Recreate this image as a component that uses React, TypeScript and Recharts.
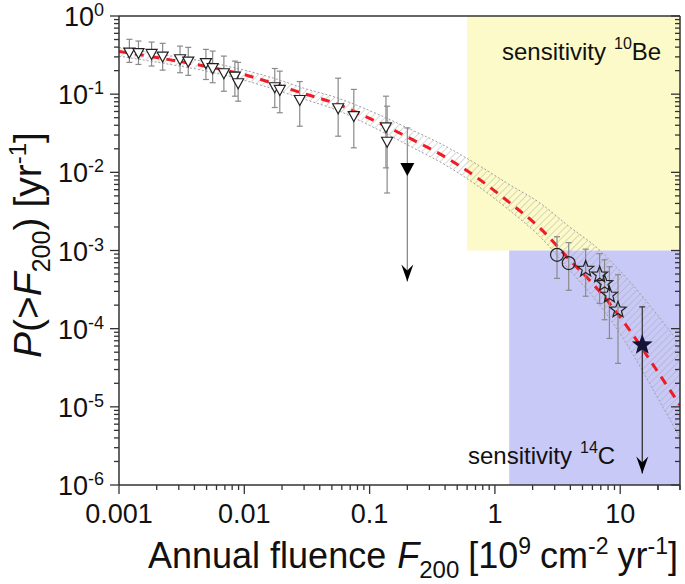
import React from "react";
import {
  ComposedChart,
  XAxis,
  YAxis,
  Line,
  Area,
  Scatter,
  ErrorBar,
  ReferenceLine,
} from "recharts";

const FONT = "'Liberation Sans', Arial, sans-serif";

// fitted cumulative probability curve (red dashed) and its uncertainty band
const fitF = [0.001, 0.0022, 0.005, 0.0098, 0.02, 0.028, 0.056, 0.1, 0.22, 0.41, 0.72, 1.31, 2.28, 3.95, 6.5, 10.4, 19.5, 30];
const fitP = [0.352, 0.287, 0.226, 0.179, 0.126, 0.105, 0.074, 0.049, 0.0262, 0.0154, 0.00855, 0.00409, 0.00195, 7.6e-4, 3.3e-4, 1.29e-4, 2.96e-5, 1.05e-5];
const bandLo = [0.307, 0.25, 0.197, 0.152, 0.107, 0.0894, 0.0616, 0.0398, 0.0208, 0.0122, 0.00679, 0.00325, 0.00151, 5.6e-4, 2.23e-4, 7.8e-5, 1.38e-5, 4.0e-6];
const bandHi = [0.395, 0.322, 0.259, 0.205, 0.148, 0.123, 0.089, 0.0617, 0.0345, 0.0213, 0.01265, 0.00695, 0.00407, 2.0e-3, 1.09e-3, 5.1e-4, 1.55e-4, 6.3e-5];

// open triangles
const triF = [0.00121, 0.00143, 0.00182, 0.00223, 0.00307, 0.00357, 0.00494, 0.00559, 0.00687, 0.00841, 0.00893, 0.0175, 0.0192, 0.0277, 0.0561, 0.0748, 0.135, 0.138];
const triP = [0.345, 0.34, 0.332, 0.307, 0.284, 0.265, 0.253, 0.218, 0.188, 0.17, 0.14, 0.1245, 0.115, 0.0855, 0.067, 0.0533, 0.0382, 0.025];
const triLo = [0.255, 0.24, 0.229, 0.203, 0.188, 0.174, 0.154, 0.14, 0.109, 0.0942, 0.0813, 0.0675, 0.0578, 0.0389, 0.029, 0.0206, 0.0114, 0.00544];
const triHi = [0.503, 0.478, 0.464, 0.447, 0.412, 0.397, 0.374, 0.356, 0.307, 0.265, 0.255, 0.213, 0.197, 0.145, 0.16, 0.115, 0.0942, 0.0702];

// open circles
const circF = [3.13, 3.88];
const circP = [8.8e-4, 6.9e-4];
const circLo = [4.4e-4, 3.1e-4];
const circHi = [1.5e-3, 1.26e-3];

// open stars
const starF = [5.3, 6.85, 7.5, 8.2, 9.6];
const starP = [5.8e-4, 4.9e-4, 3.8e-4, 2.7e-4, 1.74e-4];
const starLo = [2.6e-4, 2.1e-4, 1.3e-4, 7.5e-5, 3.6e-5];
const starHi = [1.04e-3, 9.1e-4, 7.6e-4, 6.2e-4, 4.9e-4];

// upper limits (filled triangle, filled star)
const limTriF = [0.2];
const limTriP = [0.0114];
const limTriHi = [0.037];
const limTriArrow = [4.0e-4];
const limStarF = [15];
const limStarP = [6.2e-5];
const limStarHi = [1.9e-4];
const limStarArrow = [1.4e-6];

// sensitivity windows: x range and P range
const be10X = [0.6, 30];
const be10P = [1e-3, 1];
const c14X = [1.3, 30];
const c14P = [1e-6, 1e-3];

const xMajor = [0.001, 0.01, 0.1, 1, 10];
const xMajorLabels = ["0.001", "0.01", "0.1", "1", "10"];
const yMajor = [1, 0.1, 0.01, 0.001, 1e-4, 1e-5, 1e-6];
const yMajorExp = ["0", "-1", "-2", "-3", "-4", "-5", "-6"];

const mult = [1, 2, 3, 4, 5, 6, 7, 8, 9];
const xTicks = [...xMajor.flatMap((d) => mult.map((m) => (m === 1 ? d : d * m))), 20, 30];
const yTicks = [1, ...yMajor.slice(1).flatMap((d) => mult.map((m) => (m === 1 ? d : d * m)))];

const fitData = fitF.map((x, i) => ({ x, y: fitP[i], band: [bandLo[i], bandHi[i]] }));
const be10Data = be10X.map((x) => ({ x, box: be10P }));
const c14Data = c14X.map((x) => ({ x, box: c14P }));
const triData = triF.map((x, i) => ({ x, y: triP[i], err: [triP[i] - triLo[i], triHi[i] - triP[i]] }));
const circData = circF.map((x, i) => ({ x, y: circP[i], err: [circP[i] - circLo[i], circHi[i] - circP[i]] }));
const starData = starF.map((x, i) => ({ x, y: starP[i], err: [starP[i] - starLo[i], starHi[i] - starP[i]] }));
const limTriData = limTriF.map((x, i) => ({ x, y: limTriP[i], err: [0, limTriHi[i] - limTriP[i]] }));
const limStarData = limStarF.map((x, i) => ({ x, y: limStarP[i], err: [0, limStarHi[i] - limStarP[i]] }));
const arrowData = [
  ...limTriF.map((x, i) => ({ x, y: limTriArrow[i] })),
  ...limStarF.map((x, i) => ({ x, y: limStarArrow[i] })),
];

const AXIS = "#333";

const starPoints = (cx: number, cy: number, R: number, r: number) =>
  Array.from({ length: 10 }, (_, k) => {
    const a = -Math.PI / 2 + (k * Math.PI) / 5;
    const rad = k % 2 === 0 ? R : r;
    return `${cx + rad * Math.cos(a)},${cy + rad * Math.sin(a)}`;
  }).join(" ");

const OpenTri = ({ cx, cy }: any) => (
  <polygon
    points={`${cx - 5.5},${cy - 4} ${cx + 5.5},${cy - 4} ${cx},${cy + 6}`}
    fill="#fff"
    stroke="#222"
    strokeWidth={1.2}
  />
);
const FilledTri = ({ cx, cy }: any) => (
  <polygon points={`${cx - 7},${cy - 5} ${cx + 7},${cy - 5} ${cx},${cy + 8}`} fill="#000" />
);
const OpenCircle = ({ cx, cy }: any) => (
  <circle cx={cx} cy={cy} r={6.5} fill="none" stroke="#222" strokeWidth={1.2} />
);
const OpenStar = ({ cx, cy }: any) => (
  <polygon points={starPoints(cx, cy, 8.5, 3.6)} fill="none" stroke="#222" strokeWidth={1.2} />
);
const FilledStar = ({ cx, cy }: any) => (
  <polygon points={starPoints(cx, cy, 11, 4.6)} fill="#141438" />
);
const ArrowHead = ({ cx, cy }: any) => (
  <polygon points={`${cx},${cy} ${cx - 6},${cy - 17} ${cx},${cy - 11} ${cx + 6},${cy - 17}`} fill="#000" />
);

const BottomTick = ({ x, y, payload }: any) => {
  const i = xMajor.indexOf(payload.value);
  const major = i >= 0;
  return (
    <g>
      <line x1={x} x2={x} y1={y} y2={y + (major ? 9 : 5)} stroke={AXIS} strokeWidth={1.3} />
      {major && (
        <text x={x} y={y + 38} textAnchor="middle" fontSize={27} fontFamily={FONT} fill="#111">
          {xMajorLabels[i]}
        </text>
      )}
    </g>
  );
};

const TopTick = ({ x, y, payload }: any) => {
  const major = xMajor.includes(payload.value);
  return <line x1={x} x2={x} y1={y} y2={y + (major ? 9 : 5)} stroke={AXIS} strokeWidth={1.3} />;
};

const LeftTick = ({ x, y, payload }: any) => {
  const i = yMajor.indexOf(payload.value);
  const major = i >= 0;
  return (
    <g>
      <line x1={x - (major ? 9 : 5)} x2={x} y1={y} y2={y} stroke={AXIS} strokeWidth={1.3} />
      {major && (
        <text x={x - 15} y={y + 10} textAnchor="end" fontSize={27} fontFamily={FONT} fill="#111">
          10
          <tspan dy={-10} fontSize={18}>
            {yMajorExp[i]}
          </tspan>
        </text>
      )}
    </g>
  );
};

const RightTick = ({ x, y, payload }: any) => {
  const major = yMajor.includes(payload.value);
  return <line x1={x - (major ? 9 : 5)} x2={x} y1={y} y2={y} stroke={AXIS} strokeWidth={1.3} />;
};

export default function App() {
  return (
    <div style={{ position: "absolute", left: 0, top: 0, width: 685, height: 584 }}>
      <ComposedChart width={685} height={584} margin={{ top: 15, right: 4, bottom: 0, left: 0 }}>
        <defs>
          <pattern id="hatch" width="5" height="5" patternUnits="userSpaceOnUse" patternTransform="rotate(45)">
            <line x1="0" y1="0" x2="0" y2="5" stroke="#a0a0a0" strokeWidth="0.8" />
          </pattern>
        </defs>
        <Area
          data={be10Data}
          dataKey="box"
          type="linear"
          fill="#fcfac8"
          fillOpacity={1}
          stroke="none"
          isAnimationActive={false}
        />
        <Area
          data={c14Data}
          dataKey="box"
          type="linear"
          fill="#c9c9f8"
          fillOpacity={1}
          stroke="none"
          isAnimationActive={false}
        />
        <Area
          data={fitData}
          dataKey="band"
          type="monotone"
          fill="url(#hatch)"
          fillOpacity={1}
          stroke="#a0a0a0"
          strokeWidth={1}
          strokeDasharray="2 2"
          isAnimationActive={false}
        />
        <Line
          data={fitData}
          dataKey="y"
          type="monotone"
          stroke="#ee1c25"
          strokeWidth={3}
          strokeDasharray="9 7"
          dot={false}
          isAnimationActive={false}
        />
        <ReferenceLine
          segment={[
            { x: limTriF[0], y: limTriP[0] },
            { x: limTriF[0], y: limTriArrow[0] },
          ]}
          stroke="#8a8a8a"
          strokeWidth={1.3}
        />
        <ReferenceLine
          segment={[
            { x: limStarF[0], y: limStarP[0] },
            { x: limStarF[0], y: limStarArrow[0] },
          ]}
          stroke="#333"
          strokeWidth={1.3}
        />
        <Scatter data={triData} shape={(p: any) => <OpenTri {...p} />} isAnimationActive={false}>
          <ErrorBar dataKey="err" direction="y" width={3} stroke="#8a8a8a" strokeWidth={1.2} />
        </Scatter>
        <Scatter data={circData} shape={(p: any) => <OpenCircle {...p} />} isAnimationActive={false}>
          <ErrorBar dataKey="err" direction="y" width={3} stroke="#8a8a8a" strokeWidth={1.2} />
        </Scatter>
        <Scatter data={starData} shape={(p: any) => <OpenStar {...p} />} isAnimationActive={false}>
          <ErrorBar dataKey="err" direction="y" width={3} stroke="#8a8a8a" strokeWidth={1.2} />
        </Scatter>
        <Scatter data={limTriData} shape={(p: any) => <FilledTri {...p} />} isAnimationActive={false}>
          <ErrorBar dataKey="err" direction="y" width={3} stroke="#8a8a8a" strokeWidth={1.2} />
        </Scatter>
        <Scatter data={limStarData} shape={(p: any) => <FilledStar {...p} />} isAnimationActive={false}>
          <ErrorBar dataKey="err" direction="y" width={3} stroke="#333" strokeWidth={1.2} />
        </Scatter>
        <Scatter data={arrowData} shape={(p: any) => <ArrowHead {...p} />} isAnimationActive={false} />
        <XAxis
          dataKey="x"
          type="number"
          scale="log"
          domain={[0.001, 30]}
          allowDataOverflow
          ticks={xTicks}
          interval={0}
          tick={(p: any) => <BottomTick {...p} />}
          tickLine={false}
          tickSize={0}
          tickMargin={0}
          axisLine={{ stroke: AXIS, strokeWidth: 1.5 }}
          height={99}
        />
        <XAxis
          xAxisId="top"
          orientation="top"
          type="number"
          scale="log"
          domain={[0.001, 30]}
          allowDataOverflow
          ticks={xTicks}
          interval={0}
          tick={(p: any) => <TopTick {...p} />}
          tickLine={false}
          tickSize={0}
          tickMargin={0}
          axisLine={{ stroke: AXIS, strokeWidth: 1.5 }}
          height={1}
        />
        <YAxis
          dataKey="y"
          type="number"
          scale="log"
          domain={[1e-6, 1]}
          allowDataOverflow
          ticks={yTicks}
          interval={0}
          tick={(p: any) => <LeftTick {...p} />}
          tickLine={false}
          tickSize={0}
          tickMargin={0}
          axisLine={{ stroke: AXIS, strokeWidth: 1.5 }}
          width={119}
        />
        <YAxis
          yAxisId="right"
          orientation="right"
          type="number"
          scale="log"
          domain={[1e-6, 1]}
          allowDataOverflow
          ticks={yTicks}
          interval={0}
          tick={(p: any) => <RightTick {...p} />}
          tickLine={false}
          tickSize={0}
          tickMargin={0}
          axisLine={{ stroke: AXIS, strokeWidth: 1.5 }}
          width={1}
        />
        <text x={148} y={568} fontSize={36} fontFamily={FONT} fill="#111">
          Annual fluence
          <tspan dx={11} fontStyle="italic">
            F
          </tspan>
          <tspan dy={10} fontSize={24}>
            200
          </tspan>
          <tspan dx={9} dy={-10}>
            [10
          </tspan>
          <tspan dy={-14} fontSize={23}>
            9
          </tspan>
          <tspan dx={9} dy={14}>
            cm
          </tspan>
          <tspan dy={-14} fontSize={23}>
            -2
          </tspan>
          <tspan dx={9} dy={14}>
            yr
          </tspan>
          <tspan dy={-14} fontSize={23}>
            -1
          </tspan>
          <tspan dy={14}>]</tspan>
        </text>
        <text transform="translate(41,245) rotate(-90)" textAnchor="middle" fontSize={39} fontFamily={FONT} fill="#111">
          <tspan fontStyle="italic">P</tspan>
          <tspan>(&gt;</tspan>
          <tspan fontStyle="italic">F</tspan>
          <tspan dy={9} fontSize={25}>
            200
          </tspan>
          <tspan dy={-9}>)</tspan>
          <tspan dx={10}>[yr</tspan>
          <tspan dy={-15} fontSize={24}>
            -1
          </tspan>
          <tspan dy={15}>]</tspan>
        </text>
      </ComposedChart>
      <svg
        width={685}
        height={584}
        style={{ position: "absolute", left: 0, top: 0, pointerEvents: "none" }}
      >
        <text x={502} y={60} fontSize={24} fontFamily={FONT} fill="#111">
          sensitivity
          <tspan dx={8} dy={-11} fontSize={16}>
            10
          </tspan>
          <tspan dy={11} fontSize={24}>
            Be
          </tspan>
        </text>
        <text x={468} y={464} fontSize={24} fontFamily={FONT} fill="#111">
          sensitivity
          <tspan dx={8} dy={-11} fontSize={16}>
            14
          </tspan>
          <tspan dy={11} fontSize={24}>
            C
          </tspan>
        </text>
      </svg>
    </div>
  );
}
